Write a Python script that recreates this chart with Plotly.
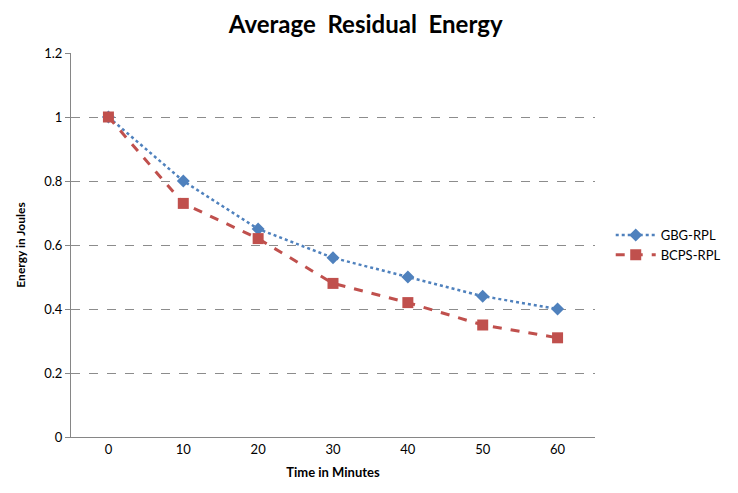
import plotly.graph_objects as go

categories = ["0", "10", "20", "30", "40", "50", "60"]
gbg_rpl = [1.0, 0.80, 0.65, 0.56, 0.50, 0.44, 0.40]
bcps_rpl = [1.0, 0.73, 0.62, 0.48, 0.42, 0.35, 0.31]
y_ticks = [0, 0.2, 0.4, 0.6, 0.8, 1, 1.2]

fig = go.Figure()
fig.add_trace(go.Scatter(
    x=categories, y=gbg_rpl, name="GBG-RPL", mode="lines+markers",
    line=dict(color="#4F81BD", width=2.5, dash="dot"),
    marker=dict(symbol="diamond", size=10, color="#4F81BD"),
))
fig.add_trace(go.Scatter(
    x=categories, y=bcps_rpl, name="BCPS-RPL", mode="lines+markers",
    line=dict(color="#C0504D", width=3, dash="dash"),
    marker=dict(symbol="square", size=11, color="#C0504D"),
))

fig.update_layout(
    width=730, height=485,
    margin=dict(l=57, r=143, t=45, b=56),
    paper_bgcolor="white", plot_bgcolor="white",
    font=dict(family="Lato, 'Open Sans', sans-serif", size=13, color="black"),
    title=dict(text="<b>Average  Residual  Energy</b>", x=0.49, xanchor="center",
               yref="container", y=0.984, yanchor="top", pad=dict(t=0, b=0),
               font=dict(size=24, color="black")),
    legend=dict(x=1.03, y=0.5, xanchor="left", yanchor="middle",
                font=dict(size=13), itemwidth=40, tracegroupgap=8),
)
fig.update_xaxes(
    type="category", range=[-0.5, 6.5], showgrid=False,
    showline=True, linecolor="#868686", linewidth=1, ticks="",
    tickfont=dict(size=13),
    title=dict(text="<b>Time in Minutes</b>", font=dict(size=13), standoff=12),
)
fig.update_yaxes(
    range=[0, 1.2], tickvals=y_ticks, ticktext=[f"{v:g}" for v in y_ticks],
    showgrid=True, gridcolor="#8C8C8C", griddash="dash", gridwidth=1,
    showline=True, linecolor="#868686", linewidth=1,
    ticks="outside", ticklen=5, tickcolor="#868686",
    zeroline=False, tickfont=dict(size=13),
    title=dict(text="<b>Energy in Joules</b>", font=dict(size=12), standoff=16),
)

fig.write_html("out.html")
